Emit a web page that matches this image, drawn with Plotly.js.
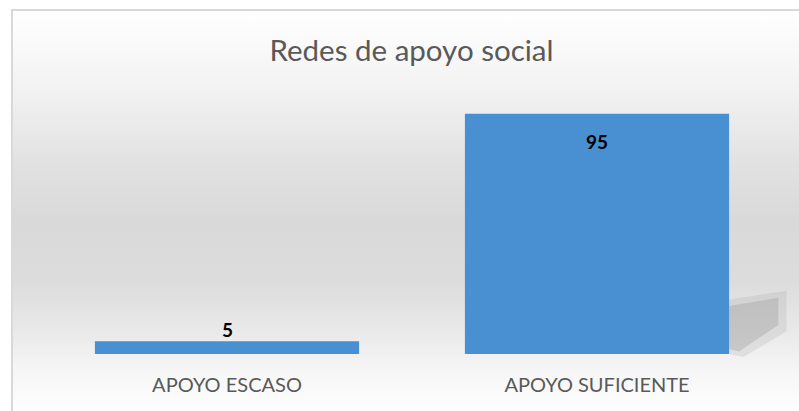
<!DOCTYPE html>
<html>
<head>
<meta charset="utf-8">
<script src="https://cdn.plot.ly/plotly-3.0.1.min.js"></script>
<style>
  html, body { margin: 0; padding: 0; background: #ffffff; width: 799px; height: 411px; overflow: hidden; }
  #frame {
    position: absolute; left: 11px; top: 9px; width: 800px; height: 410px;
    border-left: 2px solid #d9d9d9; border-top: 2px solid #d9d9d9;
    background: linear-gradient(to bottom, #ffffff 0px, #f2f2f2 80px, #e2e2e2 150px, #d9d9d9 210px, #dcdcdc 270px, #e9e9e9 320px, #f6f6f6 360px, #fefefe 402px);
  }
  #chart { position: absolute; left: 0; top: 0; width: 799px; height: 411px; }
</style>
</head>
<body>
<div id="frame"></div>
<div id="chart"></div>
<script>
const chartTitle = "Redes de apoyo social";
const categories = ["APOYO ESCASO", "APOYO SUFICIENTE"];
const values = [5, 95];

const barTrace = {
  type: "bar",
  x: categories,
  y: values,
  marker: { color: "#4890d2", line: { width: 0 } },
  hoverinfo: "x+y",
  showlegend: false
};

// data labels: inside end when the bar is tall enough, otherwise just above it
const labelAnnotations = values.map((v, i) => {
  const inside = v > 20;
  return {
    x: categories[i], y: v, xref: "x", yref: "y",
    text: "<b>" + v + "</b>",
    showarrow: false,
    yanchor: inside ? "top" : "bottom",
    yshift: inside ? -14 : -2,
    font: { family: "Lato, 'Open Sans', sans-serif", size: 19, color: "#000000" }
  };
});

const layout = {
  width: 799, height: 411,
  margin: { l: 42, r: 17, t: 101, b: 57 },
  paper_bgcolor: "rgba(0,0,0,0)",
  plot_bgcolor: "rgba(0,0,0,0)",
  title: {
    text: chartTitle,
    x: 0.515, xanchor: "center",
    yref: "container", y: 0.876, yanchor: "middle",
    font: { family: "Lato, 'Open Sans', sans-serif", size: 29.5, color: "#595959" }
  },
  bargap: 0.286,
  xaxis: {
    type: "category",
    showgrid: false, zeroline: false, showline: false,
    ticks: "",
    ticklabelstandoff: 17,
    tickfont: { family: "Lato, 'Open Sans', sans-serif", size: 20, color: "#595959" },
    fixedrange: true
  },
  yaxis: {
    range: [0, 100],
    visible: false, showgrid: false, zeroline: false,
    fixedrange: true
  },
  shapes: [
    {
      type: "path", xref: "paper", yref: "paper", layer: "below",
      path: "M 0.928 0.215 L 1.006 0.25 L 1.006 0.09 L 0.948 -0.012 L 0.928 0 Z",
      fillcolor: "rgba(150,150,150,0.18)", line: { width: 0 }
    },
    {
      type: "path", xref: "paper", yref: "paper", layer: "below",
      path: "M 0.928 0.19 L 0.995 0.222 L 0.995 0.115 L 0.942 0.01 L 0.928 0.02 Z",
      fillcolor: "rgba(130,130,130,0.25)", line: { width: 0 }
    }
  ],
  annotations: labelAnnotations
};

Plotly.newPlot("chart", [barTrace], layout, { displayModeBar: false, staticPlot: true });
</script>
</body>
</html>
